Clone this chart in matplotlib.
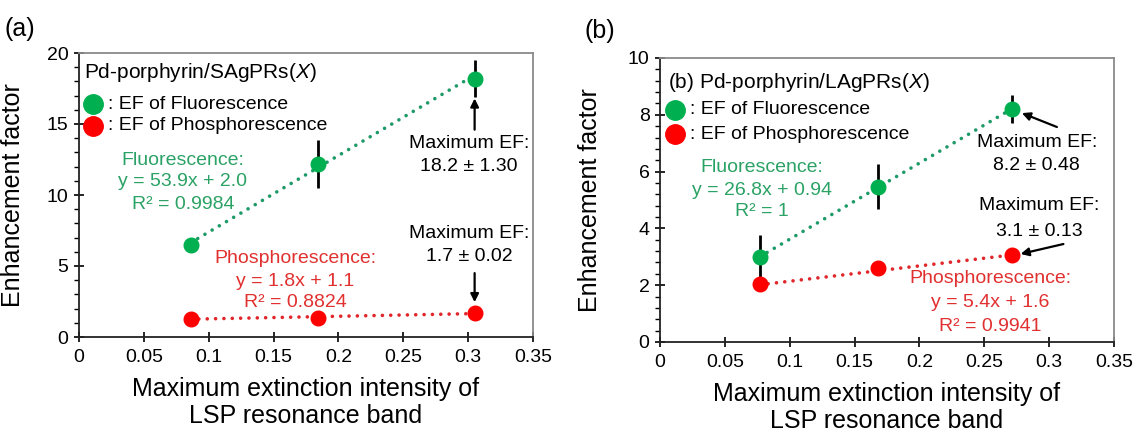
import matplotlib
matplotlib.use("Agg")
import matplotlib.pyplot as plt
import numpy as np
from matplotlib.ticker import MultipleLocator

plt.rcParams['font.family'] = ['Liberation Sans', 'DejaVu Sans']
plt.rcParams['mathtext.fontset'] = 'custom'
plt.rcParams['mathtext.rm'] = 'Liberation Sans'
plt.rcParams['mathtext.it'] = 'Liberation Sans:italic'

# ---- data panel (a) ----
a_x = [0.086, 0.184, 0.305]
a_fl = [6.5, 12.2, 18.2]
a_fl_err = [0.0, 1.7, 1.3]
a_ph = [1.3, 1.32, 1.7]
a_ph_err = [0.0, 0.0, 0.02]
a_fit_fl = (53.9, 2.0)
a_fit_ph = (1.8, 1.1)

# ---- data panel (b) ----
b_x = [0.077, 0.168, 0.271]
b_fl = [3.0, 5.47, 8.2]
b_fl_err = [0.75, 0.78, 0.48]
b_ph = [2.04, 2.6, 3.06]
b_ph_err = [0.0, 0.0, 0.13]
b_fit_fl = (26.8, 0.94)
b_fit_ph = (5.4, 1.6)

xticks = [0, 0.05, 0.1, 0.15, 0.2, 0.25, 0.3, 0.35]
xticklabels = ['0', '0.05', '0.1', '0.15', '0.2', '0.25', '0.3', '0.35']

GREEN = '#00b050'
GREEN_LINE = '#1e9a68'
GREEN_TXT = '#2ba265'
RED = '#ff0000'
RED_LINE = '#e0262a'
RED_TXT = '#e0302f'

fig = plt.figure(figsize=(11.36, 4.32), dpi=100)
axA = fig.add_axes([79/1136, (432-337)/432, 454/1136, 284/432])
axB = fig.add_axes([660/1136, (432-342)/432, 454/1136, 284/432])


def style(ax, ymax, ymajor, yminor, ylab_x):
    ax.set_xlim(0, 0.35)
    ax.set_ylim(0, ymax)
    ax.set_xticks(xticks)
    ax.set_xticklabels(xticklabels)
    ax.yaxis.set_major_locator(MultipleLocator(ymajor))
    ax.yaxis.set_minor_locator(MultipleLocator(yminor))
    ax.tick_params(axis='x', direction='inout', length=7.5, width=1.2, labelsize=14, pad=5)
    ax.tick_params(axis='y', which='major', direction='inout', length=7, width=1.2, labelsize=14, pad=4)
    ax.tick_params(axis='y', which='minor', direction='out', length=3.5, width=1.0)
    for s in ['left', 'bottom']:
        ax.spines[s].set_color('#222222')
        ax.spines[s].set_linewidth(1.3)
    for s in ['top', 'right']:
        ax.spines[s].set_color('#8a8a8a')
        ax.spines[s].set_linewidth(1.3)
    ax.set_ylabel('Enhancement factor', fontsize=18)
    ax.yaxis.set_label_coords(ylab_x, 0.5)
    ax.set_xlabel('Maximum extinction intensity of\nLSP resonance band', fontsize=18,
                  linespacing=1.15)
    ax.xaxis.set_label_coords(0.5, -0.14)


def draw(ax, x, fl, fl_err, ph, ph_err, fit_fl, fit_ph):
    x = np.asarray(x)
    xr = np.array([x.min(), x.max()])
    ax.plot(xr, fit_fl[0]*xr + fit_fl[1], color=GREEN_LINE, lw=2.6,
            dashes=(0.01, 2.3), dash_capstyle='round', zorder=2)
    ax.plot(xr, fit_ph[0]*xr + fit_ph[1], color=RED_LINE, lw=2.6,
            dashes=(0.01, 2.3), dash_capstyle='round', zorder=2)
    ax.errorbar(x, fl, yerr=fl_err, fmt='none', ecolor='black', elinewidth=2.0, capsize=0, zorder=3)
    ax.errorbar(x, ph, yerr=ph_err, fmt='none', ecolor='black', elinewidth=2.0, capsize=0, zorder=3)
    ax.plot(x, fl, 'o', color=GREEN, ms=10.5, mec=GREEN, zorder=4, clip_on=False)
    ax.plot(x, ph, 'o', color=RED, ms=10.5, mec=RED, zorder=4, clip_on=False)


def legend(ax, title, tx, ty, mx, y1, y2, lx):
    ax.text(tx, ty, title, transform=ax.transAxes, fontsize=15, ha='left', va='center')
    ax.plot([mx], [y1], 'o', ms=14, color=GREEN, transform=ax.transAxes, clip_on=False)
    ax.plot([mx], [y2], 'o', ms=14, color=RED, transform=ax.transAxes, clip_on=False)
    ax.text(lx, y1, ': EF of Fluorescence', transform=ax.transAxes, fontsize=14, ha='left', va='center')
    ax.text(lx, y2, ': EF of Phosphorescence', transform=ax.transAxes, fontsize=14, ha='left', va='center')


def block(ax, x, ys, lines, color):
    for y, s in zip(ys, lines):
        ax.text(x, y, s, transform=ax.transAxes, fontsize=14, color=color, ha='center', va='center')


arrow = dict(arrowstyle='-|>', lw=1.6, color='black', mutation_scale=12, shrinkA=0, shrinkB=0)

# ---------- panel (a) ----------
style(axA, 20, 5, 1, -0.12)
draw(axA, a_x, a_fl, a_fl_err, a_ph, a_ph_err, a_fit_fl, a_fit_ph)
legend(axA, 'Pd-porphyrin/SAgPRs($\\mathit{X}$)', 0.012, 0.933, 0.031, 0.82, 0.743, 0.064)
block(axA, 0.229, [0.623, 0.546, 0.468],
      ['Fluorescence:', 'y = 53.9x + 2.0', 'R² = 0.9984'], GREEN_TXT)
block(axA, 0.476, [0.278, 0.197, 0.12],
      ['Phosphorescence:', 'y = 1.8x + 1.1', 'R² = 0.8824'], RED_TXT)
block(axA, 0.859, [0.683, 0.599], ['Maximum EF:', '18.2 ± 1.30'], 'black')
block(axA, 0.859, [0.366, 0.282], ['Maximum EF:', '1.7 ± 0.02'], 'black')
axA.annotate('', xy=(a_x[2], 16.8), xytext=(a_x[2], 14.6), arrowprops=arrow)
axA.annotate('', xy=(a_x[2], 2.45), xytext=(a_x[2], 4.5), arrowprops=arrow)
fig.text(5/1136, 1 - 29/432, '(a)', fontsize=18, ha='left', va='center')

# ---------- panel (b) ----------
style(axB, 10, 2, 0.4, -0.128)
draw(axB, b_x, b_fl, b_fl_err, b_ph, b_ph_err, b_fit_fl, b_fit_ph)
legend(axB, '(b) Pd-porphyrin/LAgPRs($\\mathit{X}$)', 0.017, 0.912, 0.034, 0.817, 0.732, 0.066)
block(axB, 0.224, [0.613, 0.535, 0.458],
      ['Fluorescence:', 'y = 26.8x + 0.94', 'R² = 1'], GREEN_TXT)
block(axB, 0.727, [0.222, 0.139, 0.056],
      ['Phosphorescence:', 'y = 5.4x + 1.6', 'R² = 0.9941'], RED_TXT)
block(axB, 0.83, [0.704, 0.62], ['Maximum EF:', '8.2 ± 0.48'], 'black')
block(axB, 0.835, [0.482, 0.39], ['Maximum EF:', '3.1 ± 0.13'], 'black')
axB.annotate('', xy=(0.279, 8.06), xytext=(0.306, 7.57), arrowprops=arrow)
axB.annotate('', xy=(0.278, 3.1), xytext=(0.311, 3.45), arrowprops=arrow)
fig.text(585/1136, 1 - 31/432, '(b)', fontsize=18, ha='left', va='center')

fig.savefig('out.png', dpi=100)
